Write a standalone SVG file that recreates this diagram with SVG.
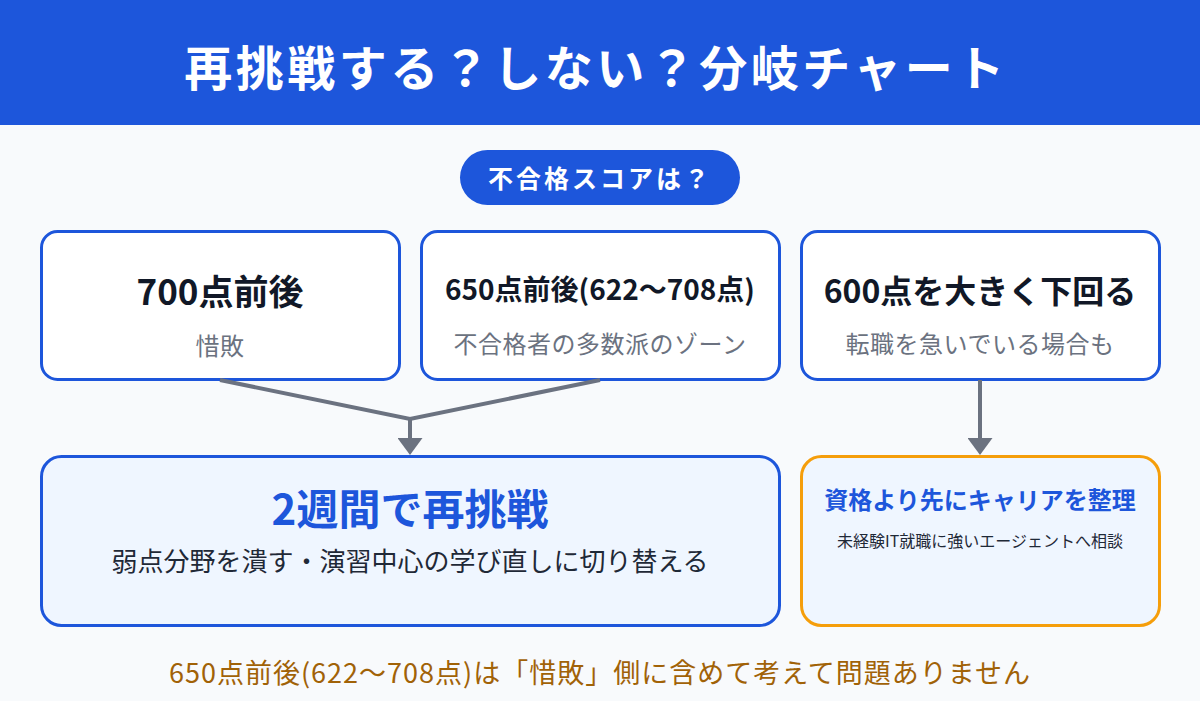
<svg xmlns="http://www.w3.org/2000/svg" width="1200" height="701" viewBox="0 0 1200 701">
<style>
text{font-family:"Noto Sans CJK JP","Noto Sans",sans-serif;text-anchor:middle}
.box{fill:#ffffff;stroke:#1d56db;stroke-width:3}
.res{fill:#eff6ff;stroke-width:3}
.h{font-weight:700;fill:#111827}
.sub{fill:#6b7280;font-size:24px;letter-spacing:0.5px}
.conn{fill:none;stroke:#6b7280;stroke-width:4}
</style>
<defs>
<marker id="arr" viewBox="0 0 17 25" refX="0" refY="12.5" markerWidth="17" markerHeight="25" markerUnits="userSpaceOnUse" orient="auto">
<path d="M0,0 L17,12.5 L0,25 z" fill="#6b7280"/>
</marker>
</defs>
<rect x="0" y="0" width="1200" height="701" fill="#f8fafc"/>
<g id="header">
<rect x="0" y="0" width="1200" height="125" fill="#1d56db"/>
<text x="596" y="86" font-size="48" font-weight="700" fill="#ffffff" letter-spacing="3.5">再挑戦する？しない？分岐チャート</text>
</g>
<g id="question">
<rect x="460" y="150" width="280" height="55" rx="27.5" fill="#1d56db"/>
<text x="600" y="188" font-size="25" font-weight="700" fill="#ffffff" letter-spacing="3">不合格スコアは？</text>
</g>
<g id="n700">
<rect class="box" x="41.5" y="231.5" width="358" height="148" rx="16"/>
<text class="h" x="220" y="305" font-size="35">700点前後</text>
<text class="sub" x="220" y="355">惜敗</text>
</g>
<g id="n650">
<rect class="box" x="421.5" y="231.5" width="358" height="148" rx="16"/>
<text class="h" x="600" y="300" font-size="28">650点前後(622〜708点)</text>
<text class="sub" x="600" y="353">不合格者の多数派のゾーン</text>
</g>
<g id="n600">
<rect class="box" x="801.5" y="231.5" width="358" height="148" rx="16"/>
<text class="h" x="980" y="303" font-size="32">600点を大きく下回る</text>
<text class="sub" x="980" y="353">転職を急いでいる場合も</text>
</g>
<g id="retry">
<rect class="res" x="41.5" y="456.5" width="738" height="169" rx="20" stroke="#1d56db"/>
<text x="410" y="525" font-size="42" font-weight="700" fill="#1d56db">2週間で再挑戦</text>
<text x="410" y="571" font-size="26" fill="#1f2937">弱点分野を潰す・演習中心の学び直しに切り替える</text>
</g>
<g id="career">
<rect class="res" x="801.5" y="456.5" width="358" height="169" rx="20" stroke="#f59e0b"/>
<text x="980" y="509" font-size="24" font-weight="700" fill="#1d56db">資格より先にキャリアを整理</text>
<text x="980" y="547" font-size="16" fill="#1f2937">未経験IT就職に強いエージェントへ相談</text>
</g>
<g id="connectors">
<path class="conn" d="M220,380 L410,419 L600,380"/>
<path class="conn" d="M410,419 L410,438" marker-end="url(#arr)"/>
<path class="conn" d="M980,380 L980,438" marker-end="url(#arr)"/>
</g>
<g id="note">
<text x="600" y="683" font-size="27" fill="#a16207" letter-spacing="1">650点前後(622〜708点)は「惜敗」側に含めて考えて問題ありません</text>
</g>
</svg>
